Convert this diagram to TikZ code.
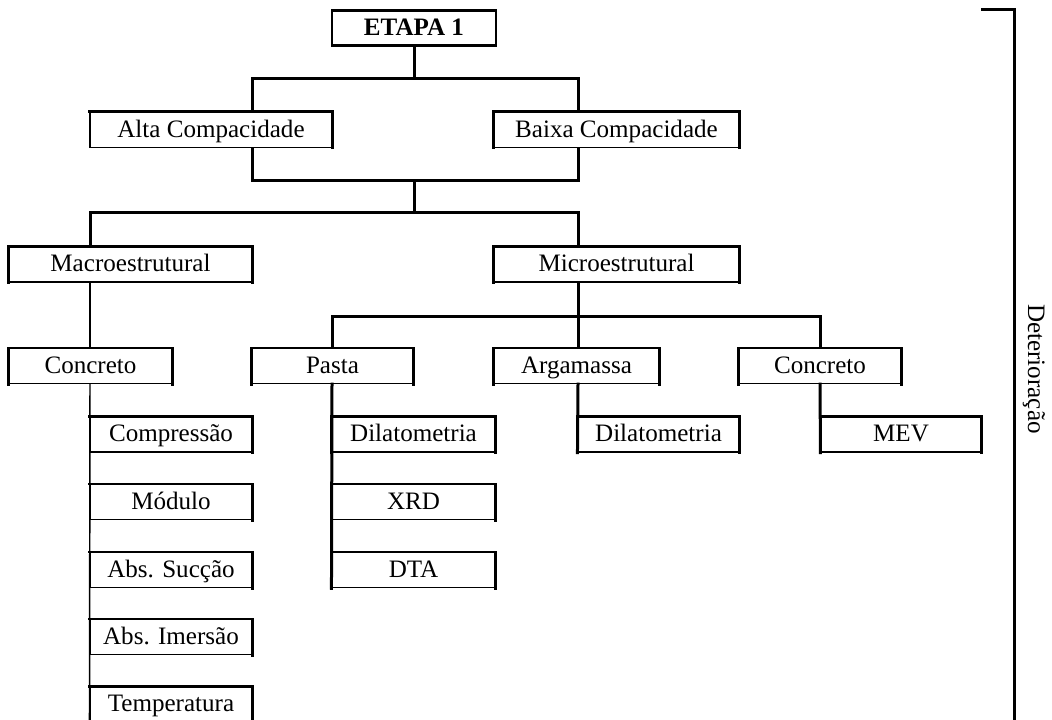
\documentclass[tikz,border=0pt]{standalone}
\usepackage{fontspec}
\setmainfont{Liberation Serif}

\tikzset{every picture/.style={line width=0.75pt}}
\tikzset{
  side/.style={line width=2.2pt, line join=miter, line cap=rect},
  box/.style={draw, line width=0.8pt, inner sep=0pt, minimum height=26.25pt,
    minimum width=#1*0.75pt, text height=14pt, text depth=3pt,
    font=\fontsize{18.8}{22}\selectfont},
  topbox/.style={box=#1, line width=2.2pt, font=\fontsize{18.8}{22}\selectfont\bfseries},
  link/.style={line width=2.25pt, line cap=rect},
  thinlink/.style={line width=1.1pt}
}

\begin{document}
\begin{tikzpicture}[x=0.75pt,y=0.75pt,yscale=-1,xscale=1]
    \useasboundingbox (0,0) rectangle (1052,720);

    % Boxes
    \node (etapa) at (414,28) [topbox=164] {ETAPA 1};
    \node (alta) at (211,130) [box=242] {Alta Compacidade};
    \node (baixa) at (616.5,130) [box=245] {Baixa Compacidade};
    \node (macro) at (130.5,264.5) [box=243] {Macroestrutural};
    \node (micro) at (616.5,264.5) [box=245] {Microestrutural};
    \node (concA) at (90.5,366) [box=163] {Concreto};
    \node (pasta) at (332.5,366) [box=161] {Pasta};
    \node (arga) at (576.5,366) [box=165] {Argamassa};
    \node (concB) at (820,366) [box=162] {Concreto};
    % Ensaios
    \node (comp) at (171,434.5) [box=162] {Compressão};
    \node (modulo) at (171,502) [box=162] {Módulo};
    \node (succao) at (171,570) [box=162] {Abs. Sucção};
    \node (imersao) at (171,637) [box=162] {Abs. Imersão};
    \node (temp) at (171,704.5) [box=162] {Temperatura};
    \node (dilA) at (413.5,434.5) [box=163] {Dilatometria};
    \node (xrd) at (413.5,502) [box=163] {XRD};
    \node (dta) at (413.5,570) [box=163] {DTA};
    \node (dilB) at (658.5,434.5) [box=161] {Dilatometria};
    \node (mev) at (901,434.5) [box=160] {MEV};

    % heavy top, left and right sides
    \foreach \n in {baixa,macro,micro,concA,pasta,arga,concB,dilA,xrd,dta,dilB,mev}
        \draw[side] (\n.south west) |- (\n.north east) -- (\n.south east);
    % heavy top and right sides only
    \foreach \n in {alta,comp,modulo,succao,imersao,temp}
        \draw[side] (\n.north west) -| (\n.south east);

    % Junctions
    \coordinate (ta) at (252,79);
    \coordinate (tb) at (578,79);
    \coordinate (ua) at (252,181);
    \coordinate (ub) at (578,181);
    \coordinate (va) at (90,213);
    \coordinate (vb) at (578,213);
    \coordinate (wa) at (332,316);
    \coordinate (wb) at (820,316);

    % Connectors
    \draw[link] (etapa.south) -- (etapa.south |- ta);
    \draw[link] (ta |- alta.north) -- (ta) -- (tb) -- (tb |- baixa.north);
    \draw[link] (ua |- alta.south) -- (ua) -- (ub) -- (ub |- baixa.south);
    \draw[link] (etapa.south |- ua) -- (etapa.south |- va);
    \draw[link] (va |- macro.north) -- (va) -- (vb) -- (vb |- micro.north);
    \draw[thinlink] (va |- macro.south) -- (va |- concA.north);
    \draw[thinlink] (va |- concA.south) -- (temp.south west);
    \draw[link] (vb |- micro.south) -- (vb |- arga.north);
    \draw[link] (wa |- pasta.north) -- (wa) -- (wb) -- (wb |- concB.north);
    \draw[link] (wa |- pasta.south) -- (dta.south west);
    \draw[link] (vb |- arga.south) -- (dilB.south west);
    \draw[link] (wb |- concB.south) -- (mev.south west);

    % Bracket
    \coordinate (brA) at (981,10);
    \coordinate (brB) at (1014,10);
    \coordinate (brC) at (1014,724);
    \draw[link, line cap=butt] (brA) -- (brB) -- (brC);
    \node (deter) at (1034,369) [rotate=-90, font=\fontsize{18.8}{22}\selectfont] {Deterioração};
\end{tikzpicture}
\end{document}
